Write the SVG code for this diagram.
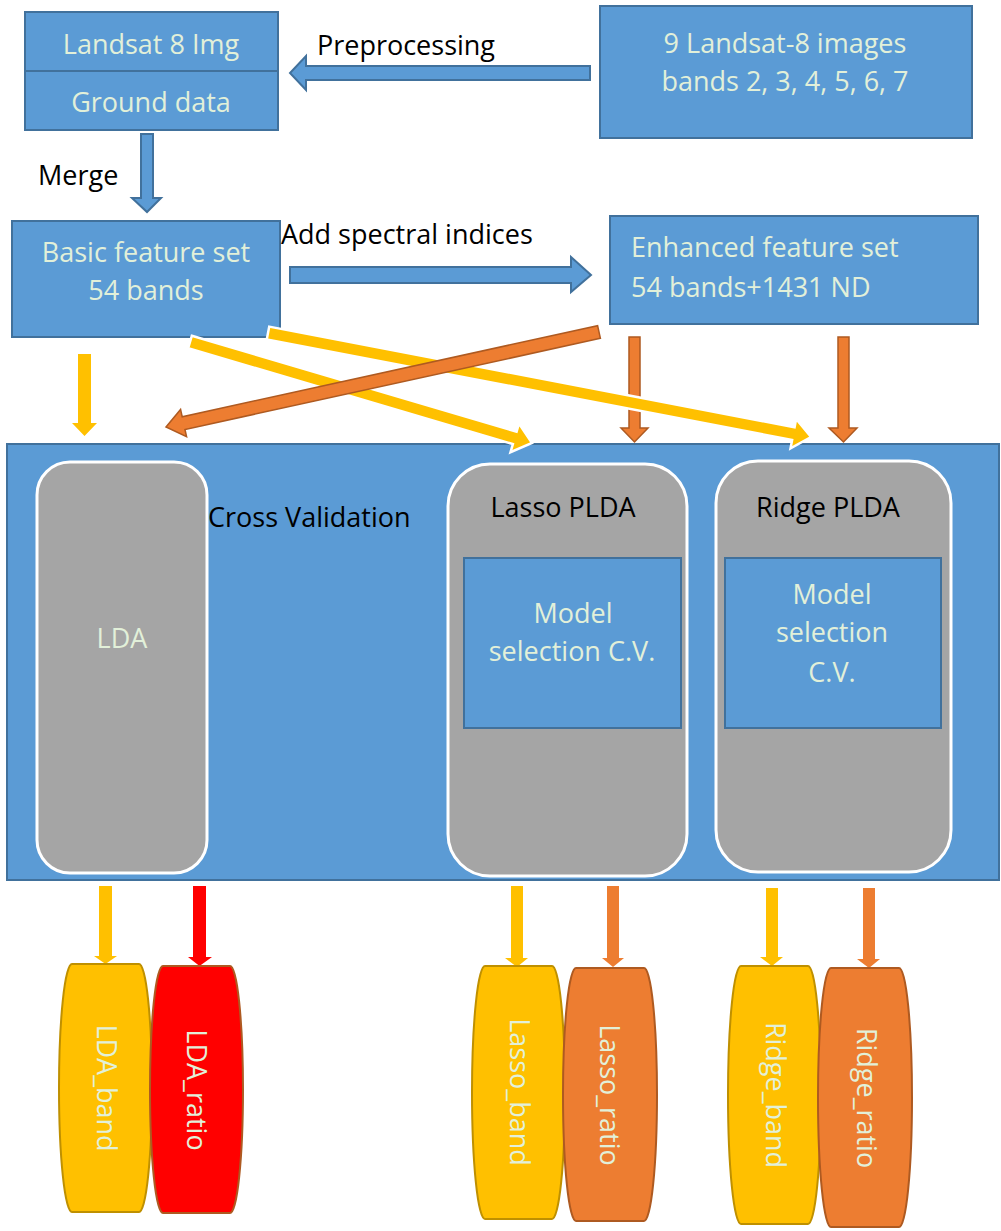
<svg xmlns="http://www.w3.org/2000/svg" width="1001" height="1231" viewBox="0 0 1001 1231">
<style>
.box{fill:#5B9BD5;stroke:#41719C;stroke-width:2}
.gray{fill:#A5A5A5;stroke:#FFFFFF;stroke-width:3}
.t{font-family:"Open Sans","Liberation Sans",sans-serif;font-size:27px;fill:#E2F0D9;text-anchor:middle}
.k{fill:#000000}
.s{text-anchor:start}
.ba{fill:#5B9BD5;stroke:#41719C;stroke-width:2}
.ya{fill:#FFC000}
.yw{fill:#FFC000;stroke:#FFFFFF;stroke-width:2.5;stroke-linejoin:miter}
.oa{fill:#ED7D31;stroke:#AE5A21;stroke-width:1.5}
.op{fill:#ED7D31}
.ra{fill:#FF0000}
.cy{fill:#FFC000;stroke:#BF9000;stroke-width:2}
.co{fill:#ED7D31;stroke:#AE5A21;stroke-width:2}
.cr{fill:#FF0000;stroke:#AE5A21;stroke-width:2}
</style>

<g id="landsat-ground">
<rect class="box" x="25" y="12" width="253" height="59"/>
<rect class="box" x="25" y="71" width="253" height="59"/>
<text class="t" x="151" y="54">Landsat 8 Img</text>
<text class="t" x="151" y="112">Ground data</text>
</g>

<g id="landsat-images">
<rect class="box" x="600" y="6" width="372" height="132"/>
<text class="t" x="785" y="53">9 Landsat-8 images</text>
<text class="t" x="785" y="91">bands 2, 3, 4, 5, 6, 7</text>
</g>

<g id="basic-set">
<rect class="box" x="12" y="221" width="268" height="116"/>
<text class="t" x="146" y="262">Basic feature set</text>
<text class="t" x="146" y="300">54 bands</text>
</g>

<g id="enhanced-set">
<rect class="box" x="610" y="216" width="368" height="108"/>
<text class="t s" x="631" y="257">Enhanced feature set</text>
<text class="t s" x="631" y="297">54 bands+1431 ND</text>
</g>

<g id="cross-validation">
<rect class="box" x="7" y="444" width="992" height="436"/>
<text class="t k s" x="208" y="527">Cross Validation</text>
</g>

<g id="lda">
<rect class="gray" x="37" y="462" width="170" height="411" rx="33" ry="33"/>
<text class="t" x="122" y="648">LDA</text>
</g>

<g id="lasso-plda">
<rect class="gray" x="448" y="464" width="239" height="412" rx="42" ry="42"/>
<text class="t k" x="563" y="517">Lasso PLDA</text>
<rect class="box" x="464" y="558" width="217" height="170"/>
<text class="t" x="573" y="623">Model</text>
<text class="t" x="572" y="661">selection C.V.</text>
</g>

<g id="ridge-plda">
<rect class="gray" x="716" y="461" width="235" height="411" rx="42" ry="42"/>
<text class="t k" x="828" y="517">Ridge PLDA</text>
<rect class="box" x="725" y="558" width="216" height="170"/>
<text class="t" x="832" y="604">Model</text>
<text class="t" x="832" y="642">selection</text>
<text class="t" x="832" y="682">C.V.</text>
</g>

<g id="connectors">
<!-- preprocessing arrow -->
<polygon class="ba" points="590,66 306,66 306,56 290,73 306,90 306,80 590,80"/>
<text class="t k" x="406" y="55">Preprocessing</text>
<!-- merge arrow -->
<polygon class="ba" points="141,134 153,134 153,198 161,198 147,212 132,198 141,198"/>
<text class="t k s" x="38" y="185">Merge</text>
<!-- add spectral indices arrow -->
<polygon class="ba" points="290,267 571,267 571,257 591,275 571,292 571,283 290,283"/>
<text class="t k s" x="281" y="244">Add spectral indices</text>
<!-- top down arrows -->
<polygon class="ya" points="78,354 91,354 91,423 97,423 84.5,436 72,423 78,423"/>
<polygon class="oa" points="629,337 640,337 640,428 648,428 634.5,442 621,428 629,428"/>
<polygon class="oa" points="838,337 849,337 849,428 857,428 843.5,442 829,428 838,428"/>
<!-- diagonal arrows -->
<polygon class="yw" transform="translate(190,342) rotate(16.45)" points="0,-6.5 338.6,-6.5 338.6,-15 356.6,0 338.6,15 338.6,6.5 0,6.5"/>
<polygon class="yw" transform="translate(268,333) rotate(10.84)" points="0,-6.5 534.9,-6.5 534.9,-15 552.9,0 534.9,15 534.9,6.5 0,6.5"/>
<polygon class="oa" transform="translate(599,332) rotate(167.63)" points="0,-6.5 425.3,-6.5 425.3,-14 443.3,0 425.3,14 425.3,6.5 0,6.5"/>
<!-- bottom arrows -->
<polygon class="ya" points="99,886 112,886 112,956 117,956 105.5,964 94,956 99,956"/>
<polygon class="ra" points="193,886 206,886 206,957 212,957 199.5,966 188,957 193,957"/>
<polygon class="ya" points="511,886 523,886 523,958 528,958 517,967 505,958 511,958"/>
<polygon class="op" points="607,886 619,886 619,958 624,958 613,967 602,958 607,958"/>
<polygon class="ya" points="766,888 778,888 778,957 783,957 772,966 760,957 766,957"/>
<polygon class="op" points="863,888 875,888 875,959 880,959 869,968 857,959 863,959"/>
</g>

<g id="lda-band">
<path class="cy" d="M72,964 L139,964 A13,124 0 0 1 139,1212 L72,1212 A13,124 0 0 1 72,964 Z"/>
<text class="t" transform="translate(97,1088) rotate(90)" x="0" y="0">LDA_band</text>
</g>
<g id="lda-ratio">
<path class="cr" d="M163,966 L230,966 A13,123.5 0 0 1 230,1213 L163,1213 A13,123.5 0 0 1 163,966 Z"/>
<text class="t" transform="translate(187,1090) rotate(90)" x="0" y="0">LDA_ratio</text>
</g>
<g id="lasso-band">
<path class="cy" d="M485,966 L552,966 A13,126.5 0 0 1 552,1219 L485,1219 A13,126.5 0 0 1 485,966 Z"/>
<text class="t" transform="translate(510,1092) rotate(90)" x="0" y="0">Lasso_band</text>
</g>
<g id="lasso-ratio">
<path class="co" d="M576,968 L644,968 A13,126.5 0 0 1 644,1221 L576,1221 A13,126.5 0 0 1 576,968 Z"/>
<text class="t" transform="translate(600,1095) rotate(90)" x="0" y="0">Lasso_ratio</text>
</g>
<g id="ridge-band">
<path class="cy" d="M741,966 L808,966 A13,129 0 0 1 808,1224 L741,1224 A13,129 0 0 1 741,966 Z"/>
<text class="t" transform="translate(766,1095) rotate(90)" x="0" y="0">Ridge_band</text>
</g>
<g id="ridge-ratio">
<path class="co" d="M831,968 L899,968 A13,129.5 0 0 1 899,1227 L831,1227 A13,129.5 0 0 1 831,968 Z"/>
<text class="t" transform="translate(857,1098) rotate(90)" x="0" y="0">Ridge_ratio</text>
</g>
</svg>
